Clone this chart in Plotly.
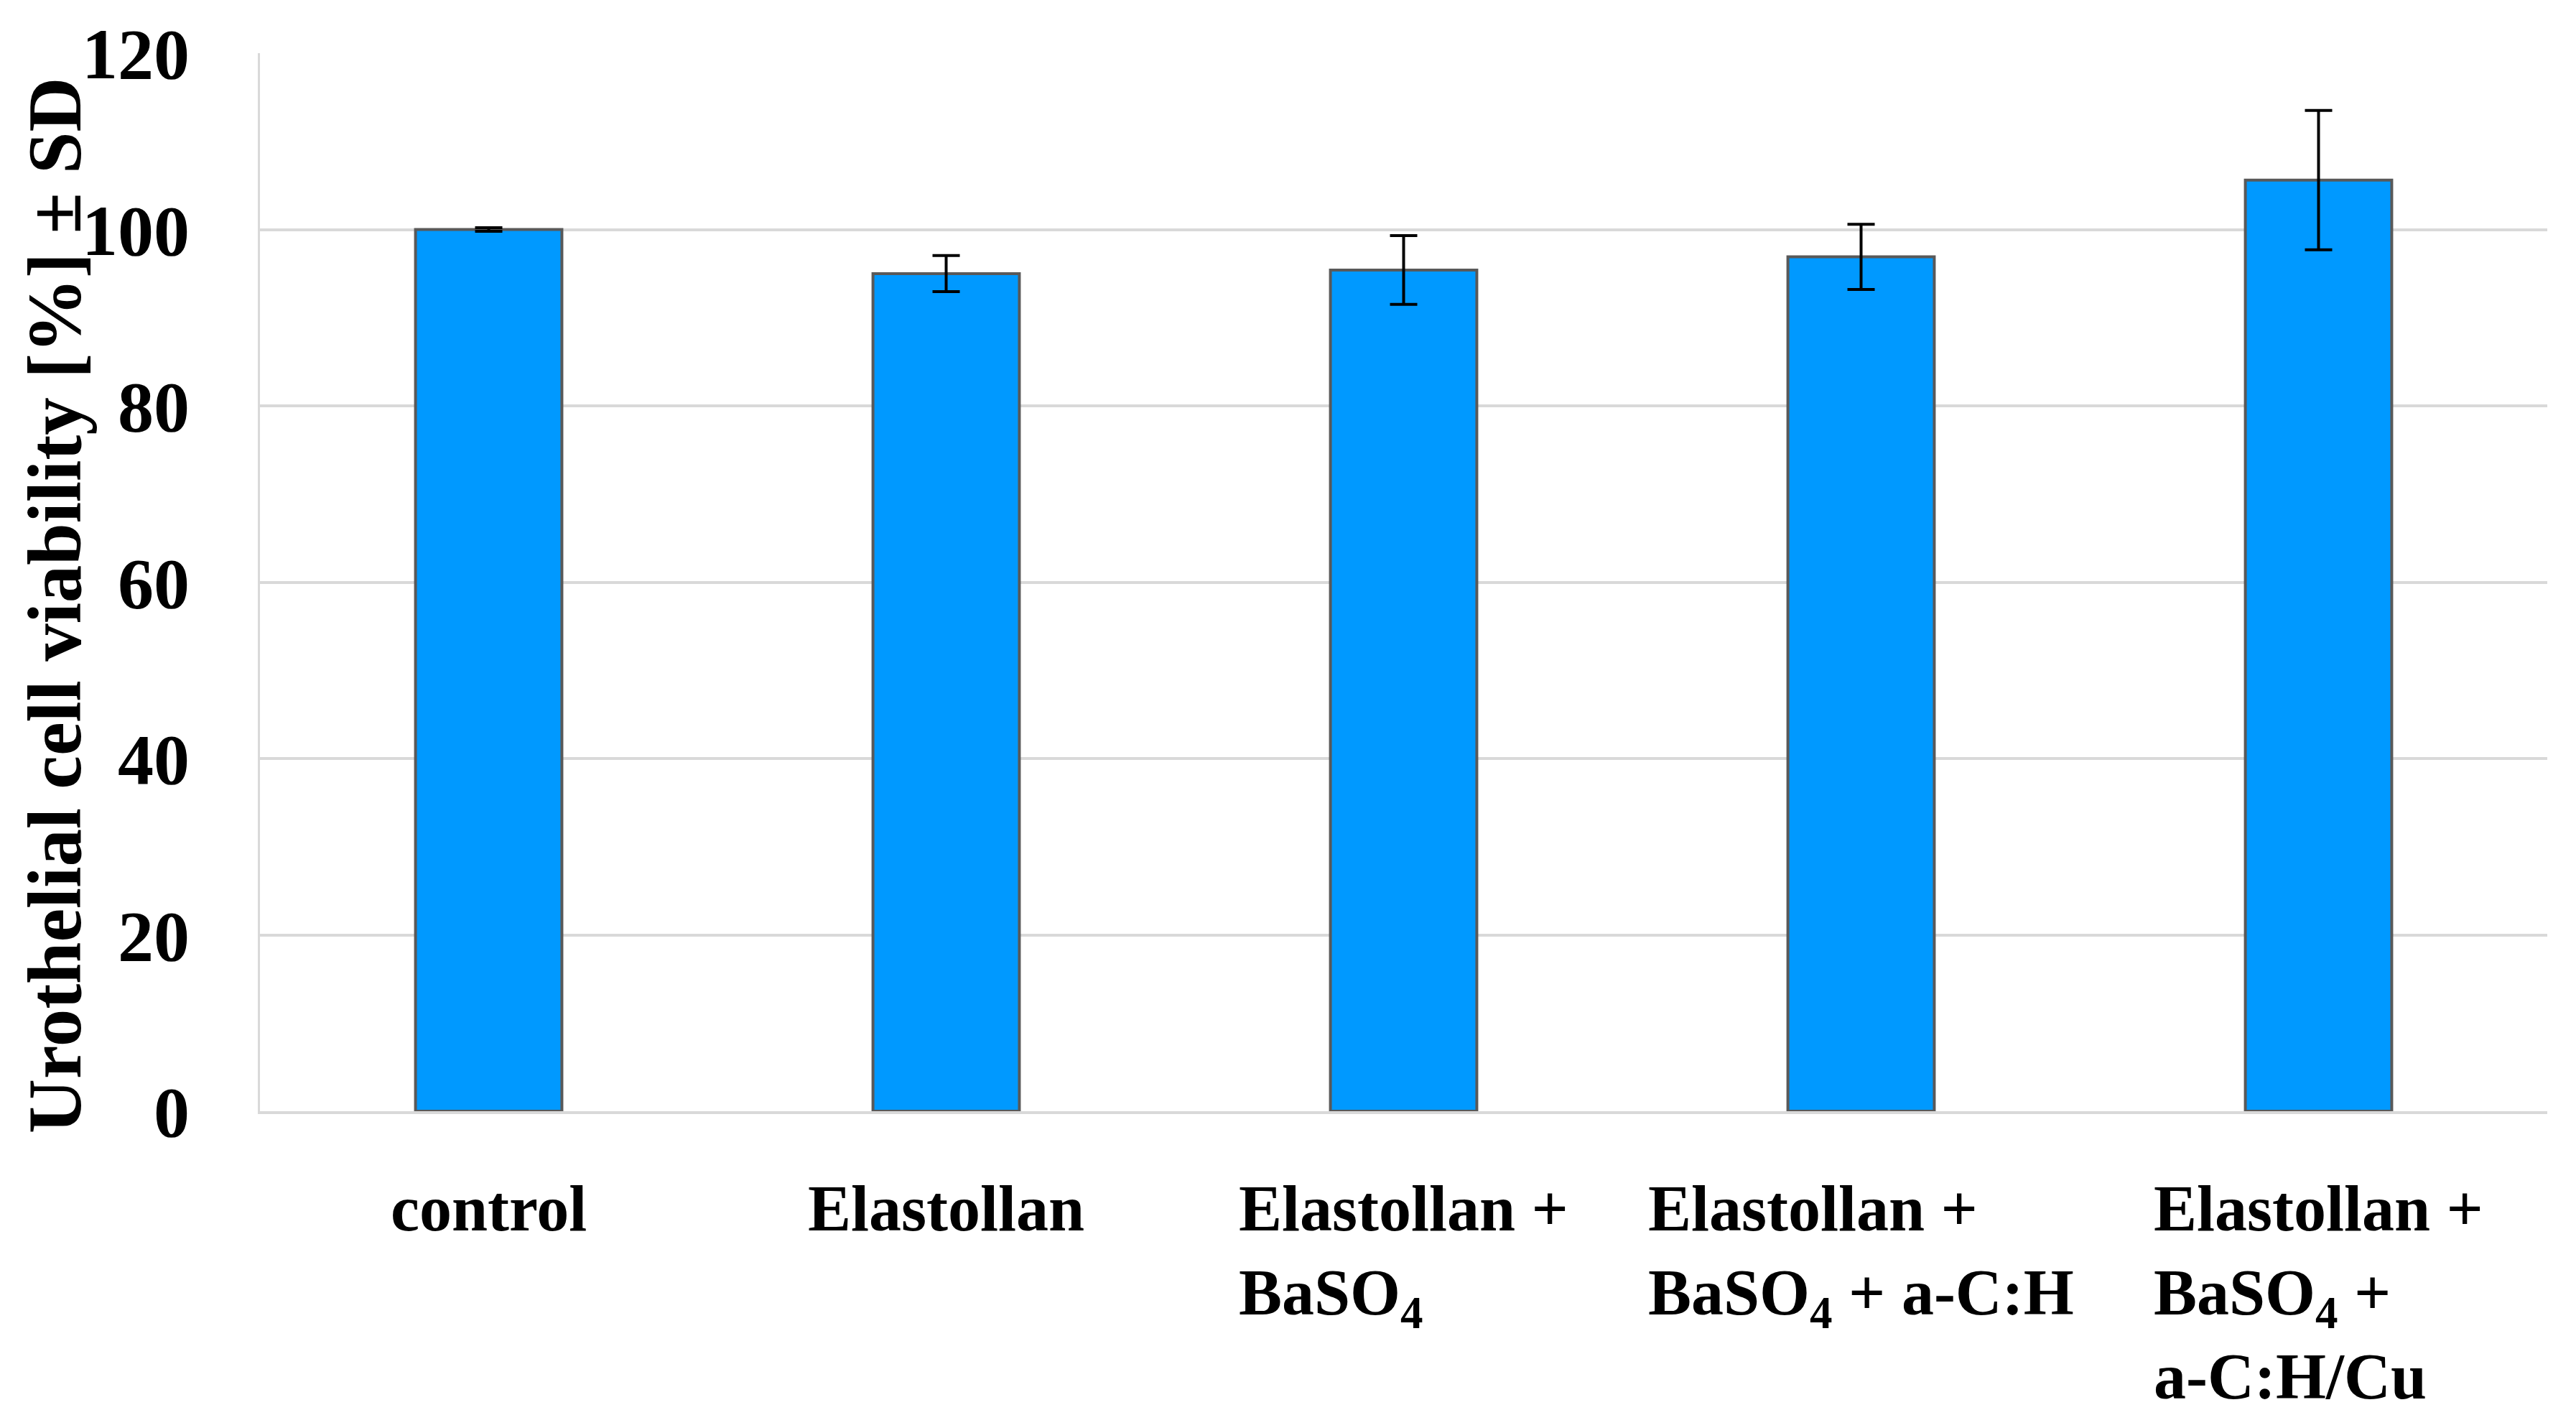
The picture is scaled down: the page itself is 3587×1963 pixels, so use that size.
import plotly.graph_objects as go

categories = ["control", "Elastollan", "Elastollan +<br>BaSO<sub>4</sub>",
              "Elastollan +<br>BaSO<sub>4</sub> + a-C:H",
              "Elastollan +<br>BaSO<sub>4</sub> +<br>a-C:H/Cu"]
cat_keys = ["control", "Elastollan", "BaSO4", "aCH", "aCHCu"]
viability = [100.0, 95.0, 95.4, 96.9, 105.6]
sd = [0.2, 2.05, 3.9, 3.7, 7.9]
y_ticks = [0, 20, 40, 60, 80, 100, 120]

FONT = "Liberation Serif"

fig = go.Figure()
fig.add_trace(go.Bar(
    x=cat_keys, y=viability,
    marker=dict(color="#0099ff", line=dict(color="#595959", width=4)),
    error_y=dict(type="data", array=sd, visible=True, color="black",
                 thickness=4, width=19),
    width=0.32,
))

for key, label in zip(cat_keys, categories):
    fig.add_annotation(
        x=key, xref="x", y=-0.057, yref="paper",
        text="<b>" + label + "</b>", showarrow=False,
        xanchor="center", yanchor="top", align="left",
        font=dict(family=FONT, size=90, color="black"),
    )

fig.add_annotation(
    x=0.0, xref="paper", xanchor="center", xshift=-285,
    y=0.478, yref="paper", yanchor="middle",
    text="<b>Urothelial cell viability [%] ± SD</b>", textangle=-90,
    showarrow=False, font=dict(family=FONT, size=105, color="black"),
)

fig.update_layout(
    width=3587, height=1963,
    margin=dict(l=354, r=48, t=50, b=424),
    paper_bgcolor="white", plot_bgcolor="white",
    showlegend=False,
    font=dict(family=FONT, color="black"),
)
fig.update_xaxes(
    showticklabels=False, showgrid=False,
    showline=True, linecolor="#d9d9d9", linewidth=4,
    range=[-0.5, 4.5],
)
fig.update_yaxes(
    range=[0, 120], tickvals=y_ticks,
    showgrid=True, gridcolor="#d9d9d9", gridwidth=4,
    showline=True, linecolor="#d9d9d9", linewidth=3,
    zeroline=False, ticklabeloverflow="allow",
    ticks="outside", ticklen=75, tickcolor="rgba(0,0,0,0)",
    tickfont=dict(family=FONT, size=100, color="black", weight="bold"),
)

fig.write_html("out.html")
